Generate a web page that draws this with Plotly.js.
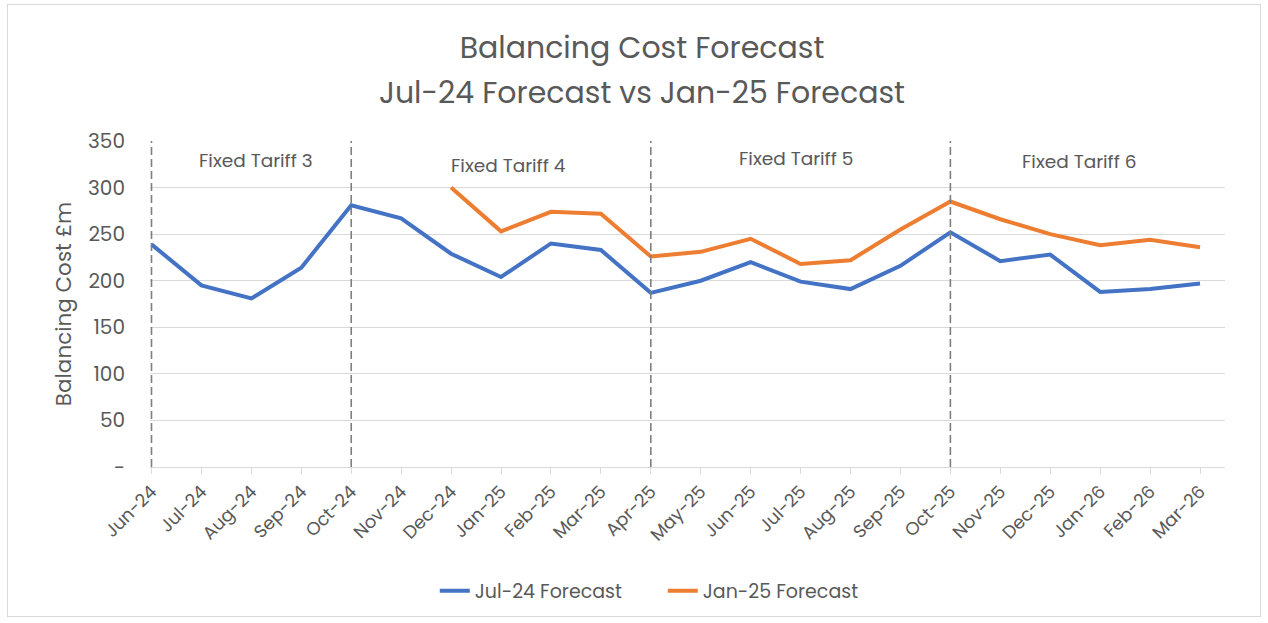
<!DOCTYPE html>
<html><head><meta charset="utf-8">
<script src="https://cdn.plot.ly/plotly-3.0.1.min.js"></script>
<style>html,body{margin:0;padding:0;background:#fff;}
#wrap{position:absolute;left:7px;top:4px;width:1254px;height:613px;border:1px solid #d9d9d9;box-sizing:border-box;}
#chart{position:absolute;left:0;top:0;width:1268px;height:623px;}</style>
</head><body><div id="wrap"></div><div id="chart"></div>
<script>
const months = ["Jun-24","Jul-24","Aug-24","Sep-24","Oct-24","Nov-24","Dec-24","Jan-25","Feb-25","Mar-25","Apr-25","May-25","Jun-25","Jul-25","Aug-25","Sep-25","Oct-25","Nov-25","Dec-25","Jan-26","Feb-26","Mar-26"];
const jul24Forecast = [239,195,181,214,281,267,229,204,240,233,187,200,220,199,191,216,252,221,228,188,191,197];
const jan25Forecast = [null,null,null,null,null,null,300,253,274,272,226,231,245,218,222,255,285,266,250,238,244,236];
const tariffStarts = ["Jun-24","Oct-24","Apr-25","Oct-25"];
const tariffLabels = ["Fixed Tariff 3","Fixed Tariff 4","Fixed Tariff 5","Fixed Tariff 6"];
const tariffLabelPos = [2.1, 7.15, 12.9, 18.58];
const tariffLabelY = [329, 324, 331, 328];
const yTicks = [0,50,100,150,200,250,300,350];
const yTickText = ["-","50","100","150","200","250","300","350"];
const titleLine1 = "Balancing Cost Forecast";
const titleLine2 = "Jul-24 Forecast vs Jan-25 Forecast";

const font = "Poppins, Lato, 'Open Sans', sans-serif";
const grey = "#595959";

const traces = [
  {x: months, y: jul24Forecast, type: "scatter", mode: "lines", name: "Jul-24 Forecast",
   line: {color: "#4472c4", width: 4}},
  {x: months, y: jan25Forecast, type: "scatter", mode: "lines", name: "Jan-25 Forecast",
   line: {color: "#ed7d31", width: 4}}
];

const shapes = tariffStarts.map(m => ({type: "line", xref: "x", yref: "y", x0: m, x1: m, y0: 0, y1: 350,
  line: {color: "#7f7f7f", width: 1.6, dash: "8px,4px"}, layer: "above"}));

const annotations = tariffLabels.map((t, i) => ({x: tariffLabelPos[i], y: tariffLabelY[i], xref: "x", yref: "y",
  text: t, showarrow: false, font: {family: font, size: 18.5, color: grey}}));
annotations.push({xref: "paper", yref: "paper", x: (642-150)/1075, y: (467-92)/326, xanchor: "center", yanchor: "middle",
  text: titleLine2, showarrow: false, font: {family: font, size: 30, color: grey}});

const layout = {
  width: 1268, height: 623,
  paper_bgcolor: "rgba(0,0,0,0)", plot_bgcolor: "rgba(0,0,0,0)",
  margin: {l: 150, r: 43, t: 141, b: 156},
  title: {text: titleLine1, xref: "container", yref: "container", x: 642/1268, xanchor: "center", y: 1-47/623, yanchor: "middle",
    font: {family: font, size: 30, color: grey}},
  xaxis: {type: "category", range: [-0.03, 21.5], tickangle: -45, ticks: "outside", ticklen: 6, tickcolor: "#d9d9d9",
    showgrid: false, showline: true, linecolor: "#d9d9d9", linewidth: 1, zeroline: false,
    tickfont: {family: font, size: 18, color: grey}, fixedrange: true},
  yaxis: {range: [0, 350], tickvals: yTicks, ticktext: yTickText, showgrid: true, gridcolor: "#d9d9d9", gridwidth: 1,
    zeroline: false, showline: false, ticks: "", ticklabelstandoff: 24, tickfont: {family: font, size: 20, color: grey},
    title: {text: "Balancing Cost £m", font: {family: font, size: 21.5, color: grey}, standoff: 10}},
  legend: {orientation: "h", x: 0.477, xanchor: "center", y: (467-591)/326, yanchor: "middle",
    font: {family: font, size: 19, color: grey}, entrywidth: 183, entrywidthmode: "pixels"},
  showlegend: true,
  shapes: shapes,
  annotations: annotations
};

Plotly.newPlot("chart", traces, layout, {displayModeBar: false, staticPlot: true});
</script>
</body></html>
